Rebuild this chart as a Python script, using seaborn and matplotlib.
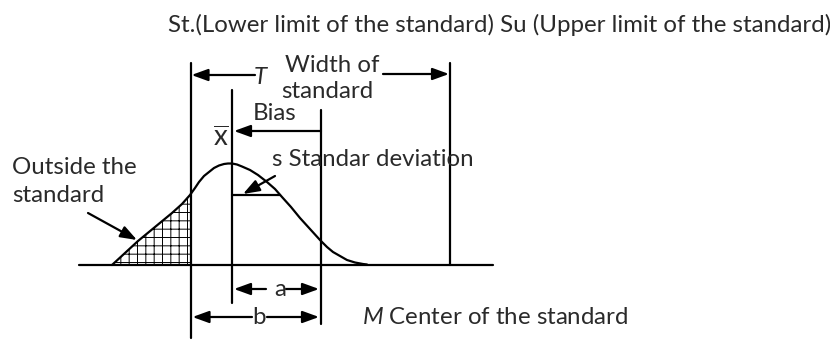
import numpy as np
import matplotlib
matplotlib.use("Agg")
import matplotlib.pyplot as plt
import seaborn as sns

# curve of the distribution (x, height above the base line)
curve_x = [112, 125, 138, 155, 172, 182, 190, 195, 199, 204, 209, 214, 219, 224,
           228, 232, 237, 242, 250, 258, 267, 275, 282, 291, 300, 310, 320, 327,
           333, 340, 347, 355, 363, 367]
curve_h = [0, 12, 24, 38, 52, 61, 70, 77, 83, 89, 93, 97, 99.5, 101,
           101.5, 101.5, 100.5, 98.5, 95, 90, 83, 76, 68, 58, 47, 36, 25, 18,
           13, 9, 5, 2.5, 1, 0.5]

# positions on the measurement axis
lower_limit = 190.5
x_mean = 232
center_m = 321
upper_limit = 450
s_point = 280

title = "St.(Lower limit of the standard) Su (Upper limit of the standard)"

sns.set_theme(style="white")
plt.rcParams["font.family"] = ["Lato", "DejaVu Sans"]
plt.rcParams["mathtext.fontset"] = "custom"
plt.rcParams["mathtext.rm"] = "Lato"
plt.rcParams["mathtext.it"] = "Lato:italic"

fig = plt.figure(figsize=(8.3, 3.45), dpi=100)
ax = fig.add_axes([0, 0, 1, 1])
ax.set_xlim(0, 830)
ax.set_ylim(-80, 265)
ax.axis("off")

lw = 1.6
txt = "#2a2a2a"
fs = 17.3

# base line and vertical lines
ax.plot([79, 493], [0, 0], color="black", lw=lw)
ax.plot([lower_limit] * 2, [-73, 202], color="black", lw=lw)
ax.plot([x_mean] * 2, [-38, 175], color="black", lw=lw)
ax.plot([center_m] * 2, [-59, 155], color="black", lw=lw)
ax.plot([upper_limit] * 2, [0, 202], color="black", lw=lw)

# distribution curve
sns.lineplot(x=curve_x, y=curve_h, sort=False, color="black", lw=lw, ax=ax)

# shaded part outside the standard
cx = np.array(curve_x)
ch = np.array(curve_h)
mask = cx <= lower_limit
plt.rcParams["hatch.linewidth"] = 0.7
ax.fill_between(cx[mask], 0, ch[mask], facecolor="none", edgecolor="black",
                hatch="++", lw=0)

# standard deviation line
s_h = np.interp(s_point, cx, ch)
ax.plot([x_mean, s_point], [s_h, s_h], color="black", lw=lw)

arrow = dict(arrowstyle="-|>,head_length=0.55,head_width=0.2", color="black",
             lw=lw, mutation_scale=18, shrinkA=0, shrinkB=0)


def arr(x0, y0, x1, y1):
    ax.annotate("", xy=(x1, y1), xytext=(x0, y0), arrowprops=arrow)


arr(255, 190, lower_limit + 1, 190)
arr(383, 191, upper_limit - 1, 191)
arr(center_m, 134, x_mean + 2, 134)
arr(275, 89, 243, 71)
arr(88, 52, 137, 25)
arr(266, -24, x_mean + 2, -24)
arr(286, -24, center_m - 2, -24)
arr(252, -52, lower_limit + 2, -52)
arr(267, -52, center_m - 2, -52)

# texts
ax.text(168, 240, title, fontsize=fs, color=txt, ha="left", va="center")
ax.text(260, 188, "T", fontsize=fs, color=txt, ha="center", va="center",
        style="italic")
ax.text(332, 200, "Width of", fontsize=fs, color=txt, ha="center", va="center")
ax.text(327, 173, "standard", fontsize=fs, color=txt, ha="center", va="center")
ax.text(253, 152, "Bias", fontsize=fs, color=txt, ha="left", va="center")
ax.text(221, 127, r"$\overline{\mathrm{x}}$", fontsize=20, color=txt,
        ha="center", va="center")
ax.text(272, 105, "s Standar deviation", fontsize=fs, color=txt, ha="left",
        va="center")
ax.text(12, 97, "Outside the", fontsize=fs, color=txt, ha="left", va="center")
ax.text(12, 69, "standard", fontsize=fs, color=txt, ha="left", va="center")
ax.text(280, -24, "a", fontsize=fs, color=txt, ha="center", va="center")
ax.text(259, -52, "b", fontsize=fs, color=txt, ha="center", va="center")
ax.text(362, -52, r"$\mathit{M}$ Center of the standard", fontsize=fs, color=txt,
        ha="left", va="center")

fig.savefig("out.png", dpi=100, facecolor="white")
